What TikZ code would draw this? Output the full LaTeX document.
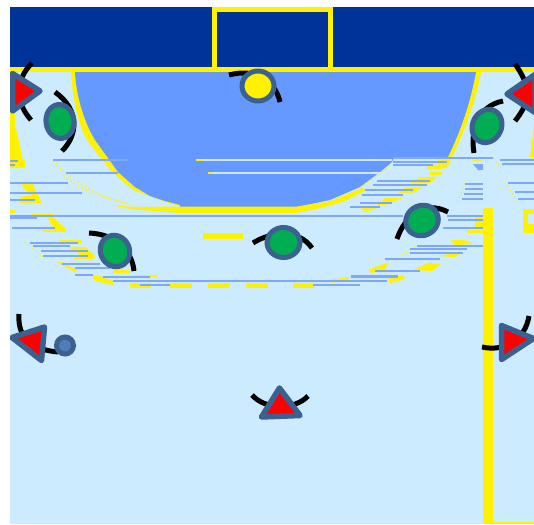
\documentclass[tikz,border=0pt]{standalone}
\definecolor{court}{HTML}{CCEBFF}
\definecolor{navy}{HTML}{003399}
\definecolor{zone}{HTML}{6699FF}
\definecolor{stripe}{HTML}{7FA8F8}
\definecolor{rim}{HTML}{3B6190}
\definecolor{team}{HTML}{00AD50}
\definecolor{ballc}{HTML}{4D7EBB}
\definecolor{lite}{HTML}{CFE6FF}
\tikzset{
  arc/.style={black,line width=5pt},
  tri/.style={draw=rim,fill=red,line width=5.5pt,line join=round},
  oval/.style={draw=rim,fill=team,line width=5pt},
  thin yellow/.style={yellow,line width=.9pt,dash pattern=on 2pt off 2.5pt}
}
\newcommand{\hs}[3]{\fill[stripe] (#2,#1-1) rectangle (#3,#1+1);}
\newcommand{\ls}[3]{\fill[lite] (#2,#1-.8) rectangle (#3,#1+.8);}
\newcommand{\yb}[4]{\fill[yellow] (#1,#2) rectangle (#3,#4);}
\begin{document}
\begin{tikzpicture}[x=1pt,y=-1pt]
\useasboundingbox (0,0) rectangle (534,524);
\clip (10,7) rectangle (534,524);
% court
\fill[court] (10,7) rectangle (534,524);
\fill[navy] (10,7) rectangle (534,68);
% zone yellow rim
\fill[yellow] (71,72) .. controls (72,95) and (78,125) .. (87,140) -- (100,157) -- (112,172) -- (133,190) -- (165,202) -- (180,206) -- (297,206) -- (330,199) -- (395,157) -- (452,157) .. controls (464,132) and (475,105) .. (481,72) -- cycle;
% zone
\fill[zone] (75,72) .. controls (76,95) and (84,122) .. (95,140) -- (108,158) -- (118,172) -- (135,187) -- (150,196) -- (165,201) -- (180,205) -- (180,207) -- (297,207) -- (330,200) -- (360,187) -- (380,172) -- (392,162) -- (394,157) -- (448,157) .. controls (460,132) and (470,105) .. (476,72) -- cycle;
% bottom yellow band of the zone
\fill[yellow] (110,205) -- (133,207) -- (180,206.5) -- (297,206.5) -- (330,201) -- (362,188) -- (366,190) -- (345,201) -- (325,207) -- (297,213) -- (180,213) -- (133,209.5) -- cycle;
% goal line and goal
\fill[yellow] (10,67.5) rectangle (534,72);
\draw[yellow,line width=5pt] (214.5,9.5) -- (330.5,9.5) (214.5,7) -- (214.5,70) (330.5,7) -- (330.5,70);
% side line fragments
\fill[yellow] (10,72) -- (15,72) -- (15,125) -- (20,145) -- (22,158) -- (25,160) -- (25,168) -- (10,168) -- cycle;
\fill[yellow] (530,157) -- (534,125) -- (534,157) -- cycle;
% right vertical line and bottom line
\yb{483}{208}{493}{524}
\yb{493}{522}{534}{524}
% right small box
\yb{523}{209}{534}{233}
\fill[court] (528,214) rectangle (534,224);
% lone dashes
\yb{203}{233}{243}{239}
\yb{130}{283}{151}{288}
\yb{170}{283}{192}{288}
\yb{208}{283}{230}{288}
\yb{246}{283}{268}{288}
\yb{293}{283}{314}{288}
\yb{284.5}{284}{285.5}{289}
% yellow blobs left
\fill[yellow] (22,182) -- (32,182) -- (42,203) -- (20,203) -- (20,197) -- (32,195) -- (23,188) -- cycle;
\yb{10}{210}{15}{213}
\yb{32}{214}{53}{216}
\fill[yellow] (47,217) -- (53,217) -- (67,230) -- (55,230) -- cycle;
\yb{43}{229}{66}{232}
\yb{60}{240}{82}{243}
\fill[yellow] (68,247) -- (85,247) -- (95,256) -- (93,259) -- (73,259) -- (80,254) -- cycle;
\fill[yellow] (57,262) -- (62,262) -- (77,270) -- (75,272) -- cycle;
\yb{113}{270}{130}{273}
\fill[yellow] (92,275) -- (100,276) -- (113,281) -- (113,285) -- (95,281) -- cycle;
\yb{133}{275}{157}{277}
\draw[thin yellow] (25,242) -- (43,257);
% yellow blobs right
\fill[yellow] (438,158) -- (452,158) -- (447,168) -- (427,170) -- (427,166) -- (438,165) -- cycle;
\yb{430}{172}{442}{175}
\fill[yellow] (420,177) -- (437,177) -- (430,183) -- (410,183) -- cycle;
\fill[yellow] (405,187) -- (423,187) -- (413,193) -- (398,193) -- cycle;
\fill[yellow] (385,198) -- (403,198) -- (385,205) -- (377,205) -- cycle;
\fill[yellow] (360,208) -- (377,208) -- (365,212) -- cycle;
\yb{472}{159}{482}{161}
\yb{475}{215}{483}{228}
\yb{467}{230}{483}{233}
\fill[yellow] (450,240) -- (465,240) -- (473,244) -- (455,245) -- cycle;
\fill[yellow] (437,256) -- (455,253) -- (462,253) -- (455,257) -- cycle;
\fill[yellow] (413,270) -- (428,263) -- (441,264) -- (432,271) -- cycle;
\fill[yellow] (368,270) -- (380,265) -- (388,263) -- (385,270) -- (372,273) -- cycle;
\fill[yellow] (387,279) -- (403,275) -- (405,279) -- (390,283) -- cycle;
\fill[yellow] (330,280) -- (348,277) -- (350,279) -- (332,283) -- cycle;
% thin dotted arcs
\draw[thin yellow] (53,161) .. controls (75,185) and (105,200) .. (140,206);
\draw[thin yellow] (63,175) .. controls (80,190) and (100,197) .. (125,203);
\draw[thin yellow] (390,165) .. controls (375,180) and (350,195) .. (330,202);
\draw[thin yellow] (457,202) -- (466,182);
\draw[thin yellow] (518,202) -- (505,182);
\draw[thin yellow] (493,157) -- (500,167);
\draw[thin yellow] (402,255) -- (418,245);
% blue stripes left
\hs{161}{10}{18}
\hs{165}{10}{15}
\hs{160}{53}{128}
\hs{173}{66}{118}
\hs{183}{10}{68}
\hs{193}{10}{82}
\hs{200}{10}{35}
\hs{216}{10}{403}
\hs{218}{10}{37}
\hs{228}{12}{55}
\hs{243}{30}{78}
\hs{246}{33}{70}
\hs{251}{41}{88}
\hs{256}{43}{88}
\hs{264}{62}{100}
\hs{268}{75}{110}
\hs{275}{75}{93}
\hs{277}{103}{150}
\hs{281}{113}{293}
\hs{285}{140}{170}
% blue stripes right
\hs{158}{393}{493}
\hs{162}{393}{447}
\hs{165}{393}{433}
\hs{181}{377}{430}
\hs{185}{373}{427}
\hs{190}{365}{413}
\hs{195}{362}{403}
\hs{203}{360}{392}
\hs{207}{350}{380}
\fill[stripe] (473,164) -- (483,164) -- (483,170) -- (478,170) -- cycle;
\hs{184}{465}{483}
\hs{189}{465}{483}
\hs{194}{464}{483}
\hs{199}{462}{483}
\hs{160}{500}{534}
\hs{164}{502}{534}
\hs{183}{508}{534}
\hs{192}{515}{534}
\hs{199}{518}{534}
\hs{216}{447}{483}
\hs{220}{448}{483}
\hs{228}{443}{483}
\hs{246}{417}{483}
\hs{249}{410}{467}
\hs{253}{410}{463}
\hs{259}{385}{440}
\hs{271}{375}{420}
\fill[stripe] (351,275) rectangle (398,278);
\hs{281}{293}{387}
\hs{285}{313}{360}
% light stripes inside the zone
\ls{160}{200}{392}
\ls{173}{212}{380}
\yb{196}{159}{203}{161}
\yb{208}{172}{214}{174}
% black arcs
\draw[arc] (32,63) .. controls (15,80) and (15,102) .. (31,120);
\draw[arc] (55,92) .. controls (80,110) and (78,135) .. (62,151);
\draw[arc] (229,75) .. controls (255,68) and (275,80) .. (280,102);
\draw[arc] (515,64) .. controls (530,85) and (532,100) .. (515,121);
\draw[arc] (503,101) .. controls (478,106) and (470,130) .. (474,153);
\draw[arc] (89,233) .. controls (115,234) and (132,250) .. (134,271);
\draw[arc] (253,243) .. controls (270,232) and (298,228) .. (312,248);
\draw[arc] (448,212) .. controls (425,200) and (405,215) .. (397,239);
\draw[arc] (19,314) .. controls (17,340) and (35,350) .. (58,352);
\draw[arc] (252,395) .. controls (265,410) and (295,410) .. (308,396);
\draw[arc] (482,347) .. controls (505,352) and (525,340) .. (529,316);
% players
\draw[tri] (12.5,73.5) -- (40,91) -- (12.5,111) -- cycle;
\draw[oval,rotate around={8:(60,121.5)}] (60,121.5) ellipse [x radius=14,y radius=17];
\draw[draw=rim,fill=yellow,line width=5pt] (258,86) ellipse [x radius=16,y radius=15];
\draw[tri] (507,94) -- (535,74.5) -- (535,112.5) -- cycle;
\draw[oval,rotate around={-25:(487,126)}] (487,126) ellipse [x radius=14.5,y radius=17];
\draw[oval,rotate around={25:(115,251)}] (115,251) ellipse [x radius=14.5,y radius=16];
\draw[oval] (283.5,242.5) ellipse [x radius=16.5,y radius=15];
\draw[oval,rotate around={25:(422,220.5)}] (422,220.5) ellipse [x radius=16.5,y radius=15];
\draw[tri] (12,337.5) -- (44.5,327) -- (41.5,360.5) -- cycle;
\draw[draw=rim,fill=ballc,line width=5pt] (65,345.5) circle (8.5);
\draw[tri] (279.5,388) -- (300,415.5) -- (261.5,417) -- cycle;
\draw[tri] (501.5,325.5) -- (533.5,338.5) -- (501.5,359.5) -- cycle;
\end{tikzpicture}
\end{document}
